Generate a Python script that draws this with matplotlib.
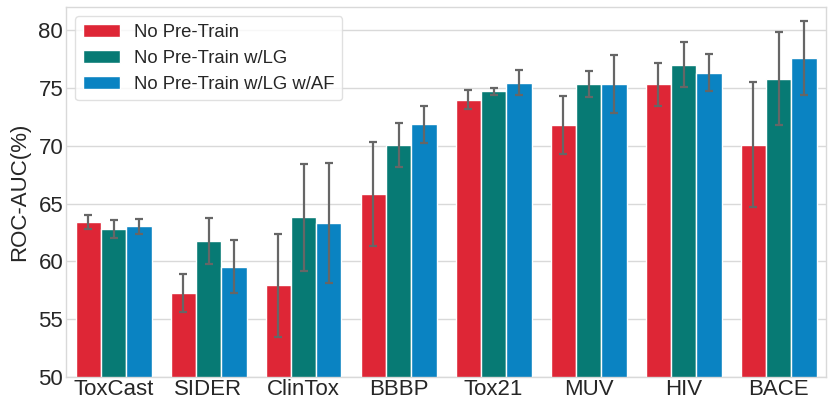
import matplotlib
matplotlib.use("Agg")
import matplotlib.pyplot as plt
import numpy as np
import seaborn as sns

categories = ["ToxCast", "SIDER", "ClinTox", "BBBP", "Tox21", "MUV", "HIV", "BACE"]
series_names = ["No Pre-Train", "No Pre-Train w/LG", "No Pre-Train w/LG w/AF"]
no_pt = [63.4, 57.3, 57.95, 65.8, 74.0, 71.8, 75.3, 70.1]
no_pt_err = [0.6, 1.65, 4.45, 4.5, 0.8, 2.5, 1.9, 5.4]
no_pt_lg = [62.8, 61.75, 63.8, 70.06, 74.7, 75.35, 77.0, 75.8]
no_pt_lg_err = [0.8, 2.0, 4.6, 1.9, 0.3, 1.1, 1.95, 4.0]
no_pt_lg_af = [63.05, 59.55, 63.3, 71.85, 75.45, 75.35, 76.3, 77.6]
no_pt_lg_af_err = [0.65, 2.3, 5.2, 1.6, 1.1, 2.5, 1.6, 3.2]
colors = ["#DE2636", "#077A74", "#0A83C2"]

sns.set_style("whitegrid")
plt.rcParams['font.family'] = ['Liberation Sans', 'DejaVu Sans']

fig = plt.figure(figsize=(8.31, 4.04), dpi=100)
ax = fig.add_axes([66/831, 1 - 377/404, 760/831, 370/404])

values = [no_pt, no_pt_lg, no_pt_lg_af]
errs = [no_pt_err, no_pt_lg_err, no_pt_lg_af_err]
x = np.arange(len(categories))
w = 0.8 / 3
for i in range(3):
    ax.bar(x + (i - 1) * w, values[i], width=w, color=colors[i], edgecolor="white",
           linewidth=1.0, label=series_names[i], zorder=2)
    ax.errorbar(x + (i - 1) * w, values[i], yerr=errs[i], fmt="none", ecolor="#666666",
                elinewidth=1.6, capsize=3, capthick=1.6, zorder=3)

ax.set_xlim(-0.5, len(categories) - 0.5)
ax.set_ylim(50, 82)
ax.set_yticks([50, 55, 60, 65, 70, 75, 80])
ax.set_xticks(x)
ax.set_xticklabels(categories)
ax.tick_params(axis="y", labelsize=16, colors="#262626", pad=2, length=0)
ax.tick_params(axis="x", labelsize=16, colors="#262626", pad=1.3, length=0)
ax.set_ylabel("ROC-AUC(%)", fontsize=16, color="#262626", labelpad=6)
ax.grid(axis="x", visible=False)
ax.grid(axis="y", color="#d9d9d9", linewidth=1.0)
ax.set_axisbelow(True)
for s in ax.spines.values():
    s.set_color("#d9d9d9")
    s.set_linewidth(1.0)

leg = ax.legend(loc="upper left", fontsize=13.3, frameon=True, handlelength=2.0,
                borderaxespad=0.5, labelspacing=0.5)
leg.get_frame().set_edgecolor("#d9d9d9")

fig.savefig("out.png", dpi=100)
